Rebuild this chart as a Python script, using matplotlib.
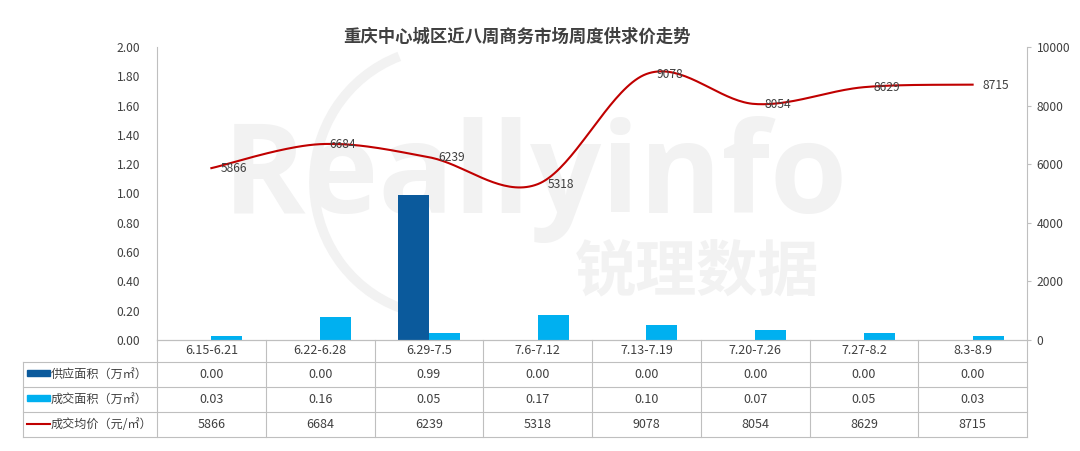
import numpy as np
import matplotlib
matplotlib.use("Agg")
import matplotlib.pyplot as plt
from matplotlib.patches import Rectangle, Arc

plt.rcParams['font.family'] = ['Noto Sans CJK SC', 'DejaVu Sans']

# -------- data --------
weeks = ["6.15-6.21", "6.22-6.28", "6.29-7.5", "7.6-7.12",
         "7.13-7.19", "7.20-7.26", "7.27-8.2", "8.3-8.9"]
supply = [0.00, 0.00, 0.99, 0.00, 0.00, 0.00, 0.00, 0.00]
deal = [0.03, 0.16, 0.05, 0.17, 0.10, 0.07, 0.05, 0.03]
price = [5866, 6684, 6239, 5318, 9078, 8054, 8629, 8715]

row_names = ["供应面积（万㎡）", "成交面积（万㎡）", "成交均价（元/㎡）"]
title = "重庆中心城区近八周商务市场周度供求价走势"

DARK = "#0B5A9C"
LIGHT = "#00B0F0"
RED = "#C00000"
TXT = "#404040"
GRID = "#BFBFBF"
MARK = "#F2F2F2"

W, H = 1080, 451
# plot area in pixels
PL, PR, PT, PB = 157, 1027, 47, 340
TL, TB = 23, 437
row_edges = [0, 22, 47, 72, 97]


def smooth(xs, ys, n=40):
    # catmull-rom, like excel's smoothed line
    px = np.concatenate([[xs[0]], xs, [xs[-1]]]).astype(float)
    py = np.concatenate([[ys[0]], ys, [ys[-1]]]).astype(float)
    ox, oy = [], []
    t = np.linspace(0, 1, n)
    for i in range(1, len(px) - 2):
        for arr, out in ((px, ox), (py, oy)):
            p0, p1, p2, p3 = arr[i - 1], arr[i], arr[i + 1], arr[i + 2]
            out.extend(0.5 * (2 * p1 + (-p0 + p2) * t
                              + (2 * p0 - 5 * p1 + 4 * p2 - p3) * t ** 2
                              + (-p0 + 3 * p1 - 3 * p2 + p3) * t ** 3))
    return np.array(ox), np.array(oy)


fig = plt.figure(figsize=(W / 100, H / 100), dpi=100)

# -------- watermark --------
bg = fig.add_axes([0, 0, 1, 1])
bg.set_xlim(0, W)
bg.set_ylim(H, 0)
bg.axis("off")
bg.add_patch(Arc((445, 182), 262, 268, theta1=105, theta2=250, color=MARK, lw=7))
bg.text(223, 213, "Reallyinfo", fontsize=90, fontweight="bold", family="Open Sans",
        color=MARK, ha="left", va="baseline")
bg.text(575, 290, "锐理数据", fontsize=44, fontweight="bold",
        color=MARK, ha="left", va="baseline")

ax = fig.add_axes([PL / W, 1 - PB / H, (PR - PL) / W, (PB - PT) / H])
ax.patch.set_alpha(0)

x = np.arange(len(weeks))
bw = 0.285
ax.bar(x - bw / 2, supply, bw, color=DARK, zorder=2)
ax.bar(x + bw / 2, deal, bw, color=LIGHT, zorder=2)
ax.set_xlim(-0.5, len(weeks) - 0.5)
ax.set_ylim(0, 2)
ax.set_yticks(np.arange(0, 2.01, 0.2))
ax.set_yticklabels([f"{v:.2f}" for v in np.arange(0, 2.01, 0.2)])
ax.set_xticks([])
ax.tick_params(axis="y", length=0, pad=12, labelsize=8.7, labelcolor=TXT)
for s in ("top", "right"):
    ax.spines[s].set_visible(False)
ax.spines["left"].set_color(GRID)
ax.spines["bottom"].set_color(GRID)

ax2 = ax.twinx()
sx, sy = smooth(x, price)
ax2.plot(sx, sy, color=RED, lw=1.5, zorder=3)
for xi, p in zip(x, price):
    ax2.annotate(str(p), (xi, p), xytext=(7, -0.5), textcoords="offset points",
                 ha="left", va="center", fontsize=8.7, color=TXT)
ax2.set_ylim(0, 10000)
ax2.set_yticks(range(0, 10001, 2000))
ax2.tick_params(axis="y", length=3, pad=4, labelsize=8.7, labelcolor=TXT, color=GRID)
for s in ("top", "left", "bottom"):
    ax2.spines[s].set_visible(False)
ax2.spines["right"].set_color(GRID)

fig.text(517 / W, 1 - 37 / H, title, fontsize=12.5, fontweight="bold",
         color=TXT, ha="center", va="center")

# -------- data table under the chart --------
unit = (PR - PL) / len(weeks)
tx0 = -0.5 - (PL - TL) / unit
tax = fig.add_axes([TL / W, 1 - TB / H, (PR - TL) / W, (TB - PB) / H])
tax.set_xlim(tx0, len(weeks) - 0.5)
tax.set_ylim(row_edges[-1], 0)
tax.axis("off")

lk = dict(color=GRID, lw=0.8, clip_on=False)
for i in range(len(weeks) + 1):
    tax.plot([i - 0.5, i - 0.5], [0, row_edges[-1]], **lk)
tax.plot([tx0, tx0], [row_edges[1], row_edges[-1]], **lk)
tax.plot([-0.5, len(weeks) - 0.5], [0, 0], **lk)
for yv in row_edges[1:]:
    tax.plot([tx0, len(weeks) - 0.5], [yv, yv], **lk)

mid = [(row_edges[i] + row_edges[i + 1]) / 2 for i in range(4)]
for i, w in enumerate(weeks):
    tax.text(i, mid[0], w, ha="center", va="center", fontsize=9, color=TXT)
    tax.text(i, mid[1], f"{supply[i]:.2f}", ha="center", va="center", fontsize=9, color=TXT)
    tax.text(i, mid[2], f"{deal[i]:.2f}", ha="center", va="center", fontsize=9, color=TXT)
    tax.text(i, mid[3], str(price[i]), ha="center", va="center", fontsize=9, color=TXT)

kx0 = tx0 + 4 / unit
kx1 = tx0 + 27 / unit
tax.add_patch(Rectangle((kx0, mid[1] - 5), kx1 - kx0, 6, color=DARK, clip_on=False))
tax.add_patch(Rectangle((kx0, mid[2] - 5), kx1 - kx0, 6, color=LIGHT, clip_on=False))
tax.plot([kx0, kx1], [mid[3] - 1, mid[3] - 1], color=RED, lw=1.5, clip_on=False)
for r, name in enumerate(row_names):
    tax.text(kx1 + 1 / unit, mid[r + 1], name, ha="left", va="center",
             fontsize=8.7, color=TXT)

fig.savefig("out.png", dpi=100)
